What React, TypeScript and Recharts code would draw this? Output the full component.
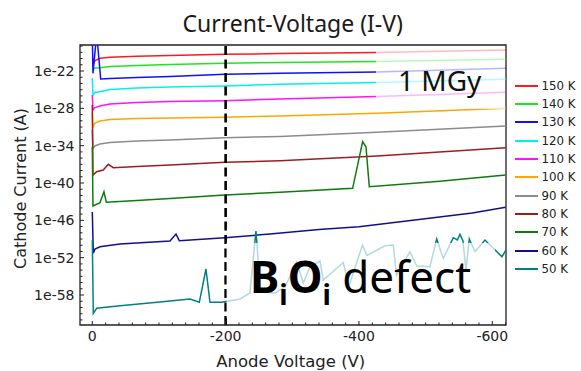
import React from 'react';
import { LineChart, Line, XAxis, YAxis, ReferenceLine, ReferenceArea, Legend } from 'recharts';

// Each point: [anode voltage (V), log10 of cathode current (A)]
type Pt = [number, number];

const k150: Pt[] = [[0, -21.04], [-1, -21.04], [-4, -20.34], [-11.5, -19.96], [-26.5, -19.8], [-67, -19.62], [-116.5, -19.5], [-199, -19.32], [-281.5, -19.19], [-427, -19.03], [-620, -18.62]];
const k140: Pt[] = [[0, -21.78], [-1, -21.73], [-4, -21.52], [-11.5, -21.47], [-26.5, -21.28], [-67, -21.12], [-116.5, -20.96], [-199, -20.76], [-281.5, -20.63], [-427, -20.47], [-620, -20.12]];
const k130: Pt[] = [[0, -16], [-1, -22.37], [-6.6, -16], [-12.6, -23.29], [-26.5, -23.21], [-67, -23.04], [-116.5, -22.88], [-199, -22.53], [-281.5, -22.37], [-427, -22.16], [-620, -21.57]];
const k120: Pt[] = [[0, -23.13], [-1, -25.86], [-4, -25.46], [-11.5, -25.33], [-26.5, -24.97], [-67, -24.73], [-116.5, -24.57], [-199, -24.41], [-281.5, -24.14], [-427, -23.85], [-620, -23.33]];
const k110: Pt[] = [[0, -25.86], [-1, -28.27], [-4, -27.87], [-11.5, -27.63], [-26.5, -27.3], [-67, -27.06], [-116.5, -26.9], [-199, -26.77], [-281.5, -26.5], [-427, -26.1], [-620, -25.42]];
const k100: Pt[] = [[0, -28.75], [-1, -31.0], [-4, -30.36], [-11.5, -30.04], [-26.5, -29.79], [-67, -29.63], [-116.5, -29.55], [-199, -29.44], [-281.5, -29.23], [-427, -28.8], [-620, -27.99]];
const k90: Pt[] = [[0, -31.48], [-1, -34.42], [-4, -34.05], [-11.5, -33.73], [-26.5, -33.49], [-67, -33.25], [-116.5, -33.09], [-199, -32.72], [-281.5, -32.52], [-427, -31.84], [-620, -30.84]];
const k80: Pt[] = [[0, -27.46], [-1, -38.71], [-6.6, -38.18], [-16.5, -37.91], [-24, -36.99], [-31.5, -37.54], [-67, -37.35], [-116.5, -37.11], [-199, -36.67], [-281.5, -36.42], [-427, -35.66], [-620, -34.33]];
const k70: Pt[] = [[0, -34.21], [-1, -43.7], [-11.5, -43.17], [-17.5, -41.4], [-21, -43.1], [-67, -42.81], [-116.5, -42.49], [-199, -41.93], [-281.5, -41.5], [-390.5, -40.85], [-405.5, -33.36], [-410.5, -34.17], [-415.5, -40.6], [-521.5, -39.73], [-620, -38.71]];
const k60: Pt[] = [[0, -44.66], [-1.5, -51.3], [-4, -50.61], [-11.5, -50.24], [-41.5, -49.8], [-116.5, -49.32], [-125.5, -48.2], [-130.5, -49.27], [-199, -48.79], [-266.5, -48.2], [-340, -47.47], [-400, -47.04], [-490, -45.87], [-570, -44.82], [-620, -43.91]];
const k50: Pt[] = [
  [0, -49.16], [-1.5, -60.94], [-6.6, -60.14], [-41.5, -59.72], [-101.5, -59.13], [-146.5, -58.64], [-160.5, -59.17],
  [-170.5, -53.82], [-176.5, -59.17], [-194, -59.17], [-221.5, -58.64], [-236.5, -57.68], [-245.5, -47.72], [-252.6, -57.52],
  [-274, -57.68], [-289, -56.72], [-306.6, -52.7], [-316.5, -56.07], [-326.5, -53.5], [-341.5, -52.54], [-346.5, -55.59],
  [-376.5, -52.78], [-385, -56.55], [-405.3, -49.97], [-412, -51.65], [-439, -50.08], [-451.5, -49.97], [-456.3, -54.79],
  [-476.5, -51.04], [-486.6, -53.34], [-506.5, -53.45], [-516.6, -49.0], [-526.5, -52.1], [-541.5, -48.79], [-547.5, -49.16],
  [-551.5, -48.25], [-556, -49.32], [-560.5, -53.98], [-565.5, -49.0], [-574, -51.04], [-589, -49.16], [-614.5, -51.85], [-622, -50.5],
];

const temperatures = ['150 K', '140 K', '130 K', '120 K', '110 K', '100 K', '90 K', '80 K', '70 K', '60 K', '50 K'];
const colors = ['#ff1a1a', '#1ee61e', '#1010ff', '#00f0f0', '#ff10ff', '#ffa500', '#8c8c8c', '#a01c1c', '#0f7a0f', '#10108c', '#008080'];
const curves = [k150, k140, k130, k120, k110, k100, k90, k80, k70, k60, k50];

const xMajorTicks = [0, -200, -400, -600];
const xTicks: number[] = [];
for (let v = 0; v >= -620; v -= 20) xTicks.push(v);

const yLabelExponents = [-22, -28, -34, -40, -46, -52, -58];
const yTicks: number[] = [];
for (let e = -18; e >= -62; e -= 1) yTicks.push(10 ** e);

const X_MIN = -620.55;
const X_MAX = 18.45;
const Y_LOW = 10 ** -62.82;
const Y_HIGH = 10 ** -17.82;

const series = temperatures.map((name, k) => ({
  name,
  color: colors[k],
  data: curves[k].map(([v, e]) => ({ v, i: 10 ** e })),
}));

const AXIS_COLOR = '#222';
const TICK_FONT = 'DejaVu Sans';

const XTick = (props: any) => {
  const { x, y, payload } = props;
  const v = payload.value as number;
  const major = xMajorTicks.includes(v);
  return (
    <g>
      <line x1={x} x2={x} y1={y} y2={y - (major ? 4 : 2.5)} stroke={AXIS_COLOR} strokeWidth={1} />
      {major && (
        <text x={x} y={y + 16} textAnchor="middle" fontFamily={TICK_FONT} fontSize={14} fill={AXIS_COLOR}>
          {String(v)}
        </text>
      )}
    </g>
  );
};

const YTick = (props: any) => {
  const { x, y, payload } = props;
  const e = Math.round(Math.log10(payload.value));
  const major = yLabelExponents.includes(e);
  return (
    <g>
      <line x1={x} x2={x + (major ? 4 : 2.5)} y1={y} y2={y} stroke={AXIS_COLOR} strokeWidth={1} />
      {major && (
        <text x={x - 5.5} y={y + 5} textAnchor="end" fontFamily={TICK_FONT} fontSize={14} fill={AXIS_COLOR}>
          {`1e${e}`}
        </text>
      )}
    </g>
  );
};

// Legend entries listed in series order (hottest first)
const LegendContent = () => (
  <div style={{ display: 'flex', flexDirection: 'column', whiteSpace: 'nowrap' }}>
    {series.map((s) => (
      <div key={s.name} style={{ display: 'flex', alignItems: 'center', height: 18.33 }}>
        <svg width={23} height={4} style={{ display: 'block', flex: 'none' }}>
          <line x1={0} x2={23} y1={2} y2={2} stroke={s.color} strokeWidth={2} />
        </svg>
        <span style={{ marginLeft: 3.5, fontFamily: TICK_FONT, fontSize: 11.8, color: '#222', lineHeight: '18px' }}>{s.name}</span>
      </div>
    ))}
  </div>
);

export default function App() {
  return (
    <div style={{ position: 'relative', width: 581, height: 371 }}>
      <style>{'body { margin: 0; }'}</style>
      <div style={{ position: 'absolute', left: 8, top: 8, width: 573, height: 363 }}>
        <LineChart width={573} height={363} margin={{ top: 37, right: 75, bottom: 0, left: 0 }}>
          <XAxis
            type="number"
            dataKey="v"
            domain={[X_MIN, X_MAX]}
            reversed
            allowDataOverflow
            ticks={xTicks}
            interval={0}
            tick={<XTick />}
            tickLine={false}
            axisLine={false}
            tickSize={0}
            tickMargin={0}
            height={46}
          />
          <YAxis
            type="number"
            scale="log"
            domain={[Y_LOW, Y_HIGH]}
            allowDataOverflow
            ticks={yTicks}
            interval={0}
            tick={<YTick />}
            tickLine={false}
            axisLine={false}
            tickSize={0}
            tickMargin={0}
            width={72}
          />
          {series.map((s) => (
            <Line
              key={s.name}
              name={s.name}
              data={s.data}
              dataKey="i"
              type="linear"
              stroke={s.color}
              strokeWidth={1.5}
              dot={false}
              activeDot={false}
              isAnimationActive={false}
            />
          ))}
          <ReferenceLine x={-200} stroke="#000" strokeWidth={2.6} strokeDasharray="9 4.5" />
          <ReferenceArea x1={X_MAX} x2={X_MIN} y1={Y_LOW} y2={Y_HIGH} fill="none" stroke={AXIS_COLOR} strokeWidth={1.3} />
          <Legend
            layout="vertical"
            align="center"
            verticalAlign="middle"
            content={<LegendContent />}
            wrapperStyle={{ position: 'absolute', left: 507, top: 68.5, width: 66, margin: 0, padding: 0 }}
          />
        </LineChart>
        <svg width={573} height={363} style={{ position: 'absolute', left: 0, top: 0, pointerEvents: 'none' }}>
          <text x={284.7} y={24} textAnchor="middle" fontFamily="Noto Sans" fontSize={23} fill="#1a1a1a">
            Current-Voltage (I-V)
          </text>
          <text transform="translate(18,180.5) rotate(-90)" textAnchor="middle" fontFamily={TICK_FONT} fontSize={16} fill="#222">
            Cathode Current (A)
          </text>
          <text x={282.8} y={359} textAnchor="middle" fontFamily={TICK_FONT} fontSize={16.5} fill="#222">
            Anode Voltage (V)
          </text>
          <rect x={368} y={38.5} width={129} height={62.5} fill="#fff" fillOpacity={0.7} />
          <text x={390} y={82.5} fontFamily="Noto Sans" fontSize={28} fill="#111">
            1 MGy
          </text>
          <rect x={218.5} y={235} width={268.5} height={75} fill="#fff" fillOpacity={0.7} />
          <text x={242} y={285} fontFamily="Noto Sans" fontSize={44} fill="#000">
            <tspan fontWeight="bold">B</tspan>
            <tspan fontWeight="bold" fontSize={28} dy={12}>i</tspan>
            <tspan fontWeight="bold" dy={-12}>O</tspan>
            <tspan fontWeight="bold" fontSize={28} dy={12}>i</tspan>
            <tspan dy={-12}> defect</tspan>
          </text>
        </svg>
      </div>
    </div>
  );
}
